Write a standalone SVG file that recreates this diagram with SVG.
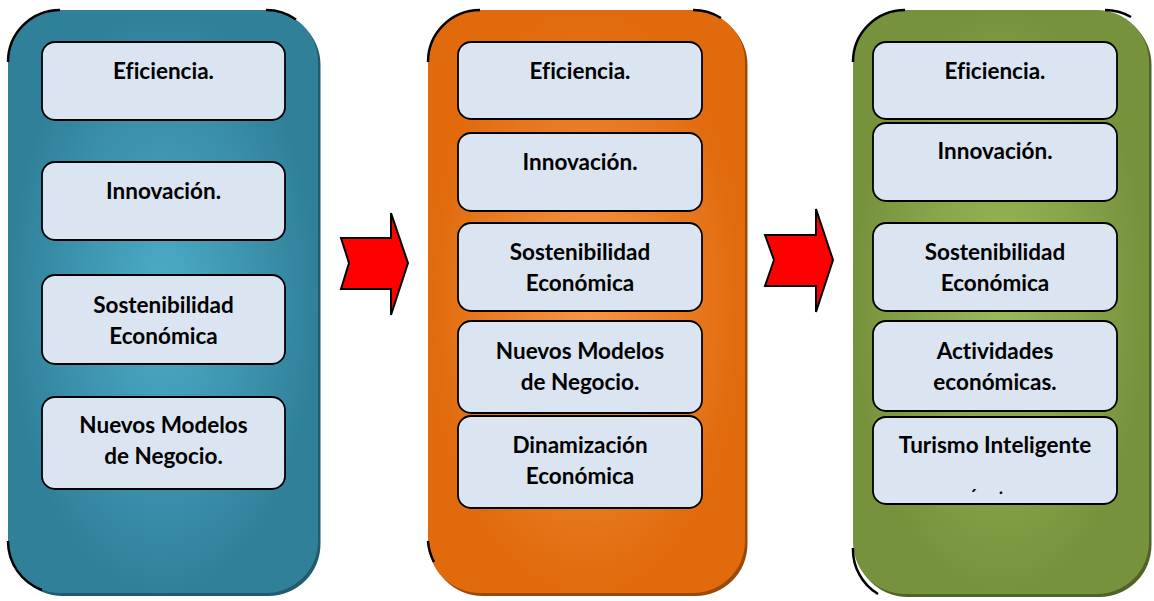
<svg xmlns="http://www.w3.org/2000/svg" width="1154" height="601" viewBox="0 0 1154 601">
<defs>
<radialGradient id="gTeal" cx="50%" cy="50%" r="50%"><stop offset="0" stop-color="#4cadc7"/><stop offset="1" stop-color="#31809a"/></radialGradient>
<radialGradient id="gOrange" cx="50%" cy="50%" r="50%"><stop offset="0" stop-color="#f79646"/><stop offset="1" stop-color="#e06a0c"/></radialGradient>
<radialGradient id="gGreen" cx="50%" cy="50%" r="50%"><stop offset="0" stop-color="#9bbb59"/><stop offset="1" stop-color="#76923c"/></radialGradient>
</defs>
<style>
.box{fill:#dbe5f1;stroke:#000;stroke-width:1.8}
.t{font-family:Lato,"Liberation Sans",sans-serif;font-weight:700;font-size:22.5px;fill:#000;text-anchor:middle;font-variant-ligatures:none;font-feature-settings:"liga" 0}
.edge{fill:none;stroke:#000;stroke-width:2.5}
.arrow{fill:#ff0000;stroke:#000;stroke-width:2;stroke-linejoin:miter}
</style>

<g id="panel-left">
<rect x="10.5" y="13" width="310" height="583" rx="52" fill="#215c6c"/>
<rect x="8" y="10" width="310" height="583" rx="52" fill="url(#gTeal)"/>
<path class="edge" d="M8,62 A52,52 0 0 1 60,10 M266,10 A52,52 0 0 1 296,19.4 M8,541 A52,52 0 0 0 42,590"/>
</g>
<g id="panel-middle">
<rect x="430.5" y="13" width="317" height="583" rx="52" fill="#9a4a08"/>
<rect x="428" y="10" width="317" height="583" rx="52" fill="url(#gOrange)"/>
<path class="edge" d="M428,62 A52,52 0 0 1 480,10 M693,10 A52,52 0 0 1 721,18 M428,541 A52,52 0 0 0 434,562"/>
</g>
<g id="panel-right">
<rect x="855.5" y="13" width="296" height="584" rx="52" fill="#4f6228"/>
<rect x="853" y="10" width="296" height="584" rx="52" fill="url(#gGreen)"/>
<path class="edge" d="M853,62 A52,52 0 0 1 905,10 M1105,10 A52,52 0 0 1 1131,17 M853,548 A52,52 0 0 0 878,594"/>
</g>

<g id="left-1"><rect class="box" x="42" y="42" width="243" height="78" rx="13"/><text class="t" x="163.5" y="79">Eficiencia.</text></g>
<g id="left-2"><rect class="box" x="42" y="162" width="243" height="78" rx="13"/><text class="t" x="163.5" y="199">Innovación.</text></g>
<g id="left-3"><rect class="box" x="42" y="275" width="243" height="89" rx="13"/><text class="t" x="163.5" y="313">Sostenibilidad</text><text class="t" x="163.5" y="344">Económica</text></g>
<g id="left-4"><rect class="box" x="42" y="397" width="243" height="92" rx="13"/><text class="t" x="163.5" y="433">Nuevos Modelos</text><text class="t" x="163.5" y="464">de Negocio.</text></g>

<g id="mid-1"><rect class="box" x="458" y="42" width="244" height="77" rx="13"/><text class="t" x="580" y="79">Eficiencia.</text></g>
<g id="mid-2"><rect class="box" x="458" y="133" width="244" height="78" rx="13"/><text class="t" x="580" y="170">Innovación.</text></g>
<g id="mid-3"><rect class="box" x="458" y="223" width="244" height="88" rx="13"/><text class="t" x="580" y="260">Sostenibilidad</text><text class="t" x="580" y="291">Económica</text></g>
<g id="mid-4"><rect class="box" x="458" y="321" width="244" height="92" rx="13"/><text class="t" x="580" y="359">Nuevos Modelos</text><text class="t" x="580" y="390">de Negocio.</text></g>
<g id="mid-5"><rect class="box" x="458" y="416" width="244" height="92" rx="13"/><text class="t" x="580" y="453">Dinamización</text><text class="t" x="580" y="484">Económica</text></g>

<g id="right-1"><rect class="box" x="873" y="42" width="244" height="77" rx="13"/><text class="t" x="995" y="79">Eficiencia.</text></g>
<g id="right-2"><rect class="box" x="873" y="123" width="244" height="78" rx="13"/><text class="t" x="995" y="159">Innovación.</text></g>
<g id="right-3"><rect class="box" x="873" y="223" width="244" height="88" rx="13"/><text class="t" x="995" y="260">Sostenibilidad</text><text class="t" x="995" y="291">Económica</text></g>
<g id="right-4"><rect class="box" x="873" y="321" width="244" height="90" rx="13"/><text class="t" x="995" y="359">Actividades</text><text class="t" x="995" y="390">económicas.</text></g>
<g id="right-5"><rect class="box" x="873" y="417" width="244" height="87" rx="13"/><text class="t" x="995" y="453">Turismo Inteligente</text><text class="t" x="973" y="503" style="font-size:18px">´</text><text class="t" x="1001" y="497" style="font-size:14px">·</text></g>

<g id="connectors">
<polygon class="arrow" points="341,238 349,263 341,289 391,289 391,315 408,263 391,213 391,238"/>
<polygon class="arrow" points="765,235 774,260 765,286 816,286 816,312 833,260 816,209 816,235"/>
</g>
</svg>
